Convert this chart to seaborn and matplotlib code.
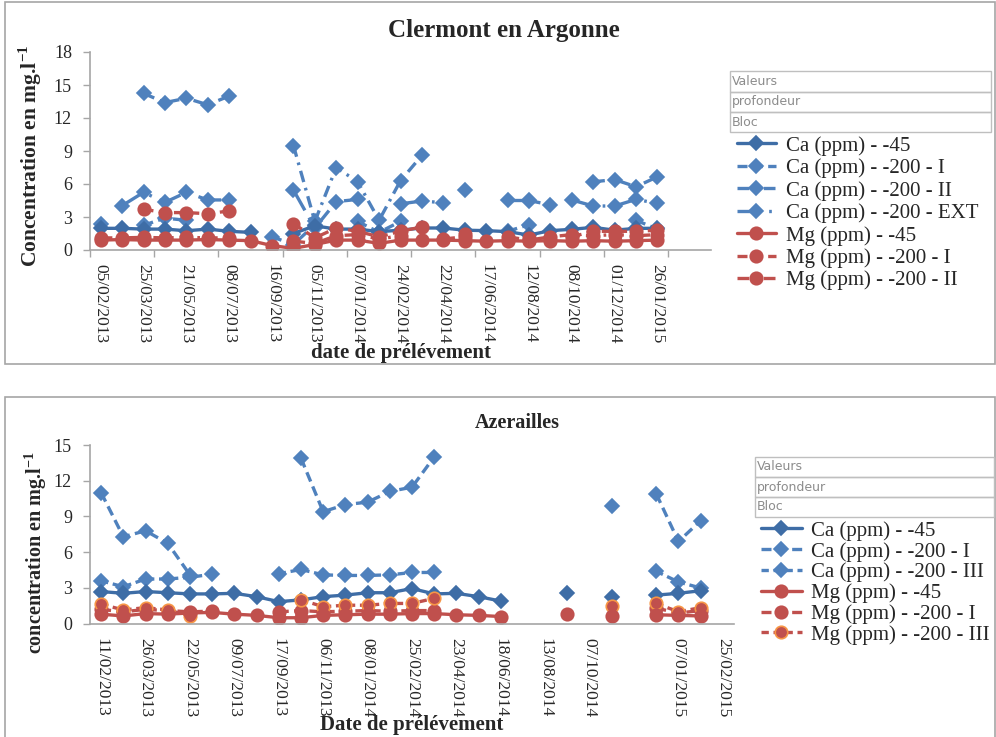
import numpy as np
import pandas as pd
import matplotlib
matplotlib.use("Agg")
import matplotlib.pyplot as plt
from matplotlib.lines import Line2D
from matplotlib.patches import Rectangle
import seaborn as sns

nan = np.nan

# ---------------- data: Clermont en Argonne ----------------
top_labels = ["05/02/2013", "25/03/2013", "21/05/2013", "08/07/2013", "16/09/2013",
              "05/11/2013", "07/01/2014", "24/02/2014", "22/04/2014", "17/06/2014",
              "12/08/2014", "08/10/2014", "01/12/2014", "26/01/2015"]
top_ca_45 = [1.97, 1.97, 1.9, 1.9, 1.75, 1.9, 1.7, 1.6, nan, 1.5, 2.2, 1.9, 1.9, 1.67, 1.8,
             2.0, 2.0, 1.8, 1.76, 1.67, 1.36, 1.76, 1.88, 2.06, 1.8, 1.97, 1.97]
top_ca_200_I = [2.36, nan, 2.25, 2.9, 2.7, nan, nan, nan, 1.2, 0.5, 2.3, nan, 2.6, 1.6, 2.6,
                nan, nan, nan, nan, 1.7, 2.3, nan, nan, nan, nan, 2.7, 1.9]
top_ca_200_II = [nan, nan, 14.24, 13.4, 13.8, 13.2, 14.0, nan, nan, 9.5, 2.6, 7.5, 6.2, 2.7, 6.3,
                 8.6, nan, 5.45, nan, nan, 4.5, 4.1, nan, 6.2, 6.4, 5.75, 6.66]
top_ca_200_EXT = [nan, 4.03, 5.24, 4.33, 5.24, 4.55, 4.55, nan, nan, 5.45, 2.0, 4.4, 4.6, nan, 4.2,
                  4.45, 4.3, nan, nan, 4.55, 4.55, nan, 4.55, 4.0, 4.0, 4.6, 4.24]
top_mg_45 = [0.9, 0.95, 0.9, 0.9, 0.9, 0.95, 0.9, 0.85, 0.4, 0.15, 0.5, 0.9, 0.9, 0.6, 0.9,
             0.9, 0.9, 0.85, 0.8, 0.85, 0.8, 0.85, 0.8, 0.85, 0.8, 0.85, 0.9]
top_mg_200_I = [nan, nan, 3.7, 3.4, 3.4, 3.3, 3.55, nan, nan, 2.4, 1.1, 2.0, 1.7, 1.2, 1.7,
                2.1, nan, 1.5, nan, nan, 1.1, nan, 1.2, 1.7, 1.7, 1.7, 1.8]
top_mg_200_II = [1.1, 1.1, 1.15, 1.1, 1.15, 1.1, 1.1, nan, nan, 0.8, 0.6, 1.3, 1.4, 1.0, 1.3,
                 nan, 1.0, 1.2, nan, 1.2, 0.9, 1.2, 1.4, 1.3, 1.4, 1.3, 1.4]
top_n_cat = 29

# ---------------- data: Azerailles ----------------
bot_labels = ["11/02/2013", "26/03/2013", "22/05/2013", "09/07/2013", "17/09/2013",
              "06/11/2013", "08/01/2014", "25/02/2014", "23/04/2014", "18/06/2014",
              "13/08/2014", "07/10/2014", "", "07/01/2015", "25/02/2015"]
bot_ca_45 = [2.7, 2.55, 2.7, 2.6, 2.5, 2.5, 2.55, 2.27, 1.85, 2.0, 2.27, 2.4, 2.6, 2.6, 2.95,
             2.5, 2.55, 2.27, 1.9, nan, nan, 2.55, nan, 2.2, nan, 2.4, 2.55, 2.77]
bot_ca_200_I = [11.0, 7.3, 7.8, 6.75, 4.1, nan, nan, nan, nan, 13.9, 9.4, 10.0, 10.2, 11.1, 11.46,
                14.0, nan, nan, nan, nan, nan, nan, nan, 9.9, nan, 10.9, 6.9, 8.65]
bot_ca_200_III = [3.6, 3.1, 3.75, 3.75, 3.9, 4.15, nan, nan, 4.2, 4.55, 4.1, 4.05, 4.05, 4.1, 4.3,
                  4.3, nan, nan, nan, nan, nan, nan, nan, nan, nan, 4.4, 3.5, 3.0]
bot_mg_45 = [0.8, 0.65, 0.85, 0.8, 0.9, 0.95, 0.8, 0.7, 0.5, 0.5, 0.7, 0.75, 0.8, 0.8, 0.85,
             0.85, 0.75, 0.7, 0.6, nan, nan, 0.8, nan, 0.65, nan, 0.75, 0.7, 0.65]
bot_mg_200_I = [1.2, 1.0, 1.2, 1.1, 1.0, 1.05, nan, nan, 1.0, 1.1, 1.0, 1.05, 1.1, 1.05, 1.1,
                1.1, nan, nan, nan, nan, nan, nan, nan, nan, nan, 1.3, 0.9, 1.1]
bot_mg_200_III = [1.65, 1.15, 1.35, 1.15, 0.67, nan, nan, nan, nan, 2.0, 1.43, 1.55, 1.55, 1.7, 1.7,
                  2.13, nan, nan, nan, nan, nan, nan, nan, 1.45, nan, 1.7, 1.0, 1.35]
bot_n_cat = 29

# ---------------- style ----------------
sns.set_theme(style="white")
SERIF = ["Liberation Serif", "DejaVu Serif"]
plt.rcParams["font.family"] = SERIF
plt.rcParams["mathtext.fontset"] = "custom"
plt.rcParams["mathtext.rm"] = "Liberation Serif"
plt.rcParams["mathtext.bf"] = "Liberation Serif:bold"

CA45 = "#3E6DA6"
CA200 = "#4F81BD"
MG = "#C0504D"
ORANGE = "#F79646"
GRAY = "#A6A6A6"

LS_SOLID = "-"
LS_I = (0, (3.0, 1.6))
LS_II = (0, (3.5, 1.8, 0.8, 1.8))
LS_III = (0, (2.2, 1.4))
LS_EXT = (0, (7, 2.5, 0.8, 2.5))


def draw(ax, vals, color, ls, marker, ms, mec=None, lw=2.4):
    v = np.asarray(vals, dtype=float)
    x = np.arange(len(v))
    seg = np.cumsum(np.isnan(v))
    df = pd.DataFrame({"x": x, "y": v, "seg": seg}).dropna()
    sns.lineplot(data=df, x="x", y="y", units="seg", estimator=None, sort=True,
                 color=color, linestyle=ls, linewidth=lw, marker=marker,
                 markersize=ms, markeredgecolor=mec if mec else color,
                 markeredgewidth=1.2, markerfacecolor=color, ax=ax, legend=False)


fig = plt.figure(figsize=(9.96, 7.37), dpi=100)
W, H = 996.0, 737.0


def fx(px):
    return px / W


def fy(py):
    return 1 - py / H


# panel frames
fig.add_artist(Rectangle((fx(5), fy(364)), fx(990), 362 / H, transform=fig.transFigure,
                         fill=False, edgecolor=GRAY, lw=1.2))
fig.add_artist(Rectangle((fx(5), fy(740)), fx(990), (740 - 397) / H, transform=fig.transFigure,
                         fill=False, edgecolor=GRAY, lw=1.2))


def setup_axes(ax, n_cat, ymax, labels, label_step, minor_step):
    ax.set_xlim(-0.5, n_cat - 0.5)
    ax.set_ylim(0, ymax)
    ax.set_yticks(np.arange(0, ymax + 0.1, 3))
    ax.set_yticklabels([str(int(t)) for t in np.arange(0, ymax + 0.1, 3)], fontsize=13)
    ax.set_xticks(np.arange(0, label_step * len(labels), label_step))
    ax.set_xticklabels(labels, rotation=-90, fontsize=12.5, va="top", ha="center")
    ax.tick_params(axis="x", which="major", length=0, pad=10)
    ax.tick_params(axis="y", which="major", length=5, width=1, color=GRAY, direction="out",
                   left=True, pad=8)
    if minor_step:
        ax.set_xticks(np.arange(-0.5, n_cat - 0.5 + 0.01, minor_step), minor=True)
        ax.tick_params(axis="x", which="minor", length=5, width=1, color=GRAY,
                       direction="out", bottom=True)
    for s in ["top", "right"]:
        ax.spines[s].set_visible(False)
    for s in ["left", "bottom"]:
        ax.spines[s].set_color(GRAY)
        ax.spines[s].set_linewidth(1.2)
    ax.set_xlabel("")
    ax.set_ylabel("")
    ax.set_facecolor("none")


# ---------------- top chart ----------------
ax1 = fig.add_axes([fx(90), fy(250), fx(711 - 90), (250 - 52) / H])
draw(ax1, top_ca_200_I, CA200, LS_I, "D", 7)
draw(ax1, top_ca_200_II, CA200, LS_II, "D", 7)
draw(ax1, top_ca_200_EXT, CA200, LS_EXT, "D", 7)
draw(ax1, top_ca_45, CA45, LS_SOLID, "D", 7)
draw(ax1, top_mg_200_I, MG, LS_I, "o", 9)
draw(ax1, top_mg_200_II, MG, LS_II, "o", 9)
draw(ax1, top_mg_45, MG, LS_SOLID, "o", 9)
setup_axes(ax1, top_n_cat, 18, top_labels, 2, 3)

fig.text(fx(504), fy(30), "Clermont en Argonne", ha="center", va="center",
         fontsize=18, fontweight="bold")
fig.text(fx(30), fy(156), r"Concentration en mg.l$^{\mathbf{-1}}$", rotation=90,
         ha="center", va="center", fontsize=15.5, fontweight="bold")
fig.text(fx(401), fy(353), "date de prélévement", ha="center", va="center",
         fontsize=15, fontweight="bold")

# ---------------- bottom chart ----------------
ax2 = fig.add_axes([fx(90), fy(623.7), fx(734 - 90), (623.7 - 445) / H])
draw(ax2, bot_ca_200_I, CA200, LS_I, "D", 7)
draw(ax2, bot_ca_200_III, CA200, LS_III, "D", 7)
draw(ax2, bot_ca_45, CA45, LS_SOLID, "D", 7)
draw(ax2, bot_mg_200_I, MG, LS_I, "o", 9)
draw(ax2, bot_mg_200_III, MG, LS_III, "o", 9, mec=ORANGE)
draw(ax2, bot_mg_45, MG, LS_SOLID, "o", 9)
setup_axes(ax2, bot_n_cat, 15, bot_labels, 2, None)

fig.text(fx(517), fy(423), "Azerailles", ha="center", va="center",
         fontsize=14.5, fontweight="bold")
fig.text(fx(36), fy(553), r"concentration en mg.l$^{\mathbf{-1}}$", rotation=90,
         ha="center", va="center", fontsize=14.5, fontweight="bold")
fig.text(fx(412), fy(725), "Date de prélévement", ha="center", va="center",
         fontsize=15, fontweight="bold")


# ---------------- pivot field buttons ----------------
def buttons(x0, x1, ys, names):
    for (ya, yb), name in zip(ys, names):
        fig.add_artist(Rectangle((fx(x0), fy(yb)), fx(x1 - x0), (yb - ya) / H,
                                 transform=fig.transFigure, fill=False,
                                 edgecolor="#BFBFBF", lw=1))
        fig.text(fx(x0 + 2), fy((ya + yb) / 2), name, ha="left", va="center",
                 fontsize=9, color="#8C8C8C", family=["DejaVu Sans"])


buttons(730, 991, [(71, 92), (92, 112), (112, 132)], ["Valeurs", "profondeur", "Bloc"])
buttons(755, 994, [(457, 477), (477, 497), (497, 517)], ["Valeurs", "profondeur", "Bloc"])


# ---------------- legends ----------------
def handle(color, ls, marker, ms, mec=None, lw=2.4):
    return Line2D([], [], color=color, linestyle=ls, linewidth=lw, marker=marker,
                  markersize=ms, markerfacecolor=color,
                  markeredgecolor=mec if mec else color, markeredgewidth=1.2)


top_handles = [handle(CA45, LS_SOLID, "D", 7), handle(CA200, LS_I, "D", 7),
               handle(CA200, LS_II, "D", 7), handle(CA200, LS_EXT, "D", 7),
               handle(MG, LS_SOLID, "o", 9), handle(MG, LS_I, "o", 9),
               handle(MG, LS_II, "o", 9)]
top_names = ["Ca (ppm) - -45", "Ca (ppm) - -200 - I", "Ca (ppm) - -200 - II",
             "Ca (ppm) - -200 - EXT", "Mg (ppm) - -45", "Mg (ppm) - -200 - I",
             "Mg (ppm) - -200 - II"]
fig.legend(top_handles, top_names, loc="upper left", bbox_to_anchor=(fx(737), fy(136)),
           frameon=False, fontsize=15, handlelength=1.85, handletextpad=0.5,
           labelspacing=0.13, borderaxespad=0, borderpad=0)

bot_handles = [handle(CA45, LS_SOLID, "D", 7), handle(CA200, LS_I, "D", 7),
               handle(CA200, LS_III, "D", 7), handle(MG, LS_SOLID, "o", 9),
               handle(MG, LS_I, "o", 9), handle(MG, LS_III, "o", 9, mec=ORANGE)]
bot_names = ["Ca (ppm) - -45", "Ca (ppm) - -200 - I", "Ca (ppm) - -200 - III",
             "Mg (ppm) - -45", "Mg (ppm) - -200 - I", "Mg (ppm) - -200 - III"]
fig.legend(bot_handles, bot_names, loc="upper left", bbox_to_anchor=(fx(761), fy(521)),
           frameon=False, fontsize=15, handlelength=1.95, handletextpad=0.45,
           labelspacing=0.05, borderaxespad=0, borderpad=0)

fig.savefig("out.png", dpi=100)
